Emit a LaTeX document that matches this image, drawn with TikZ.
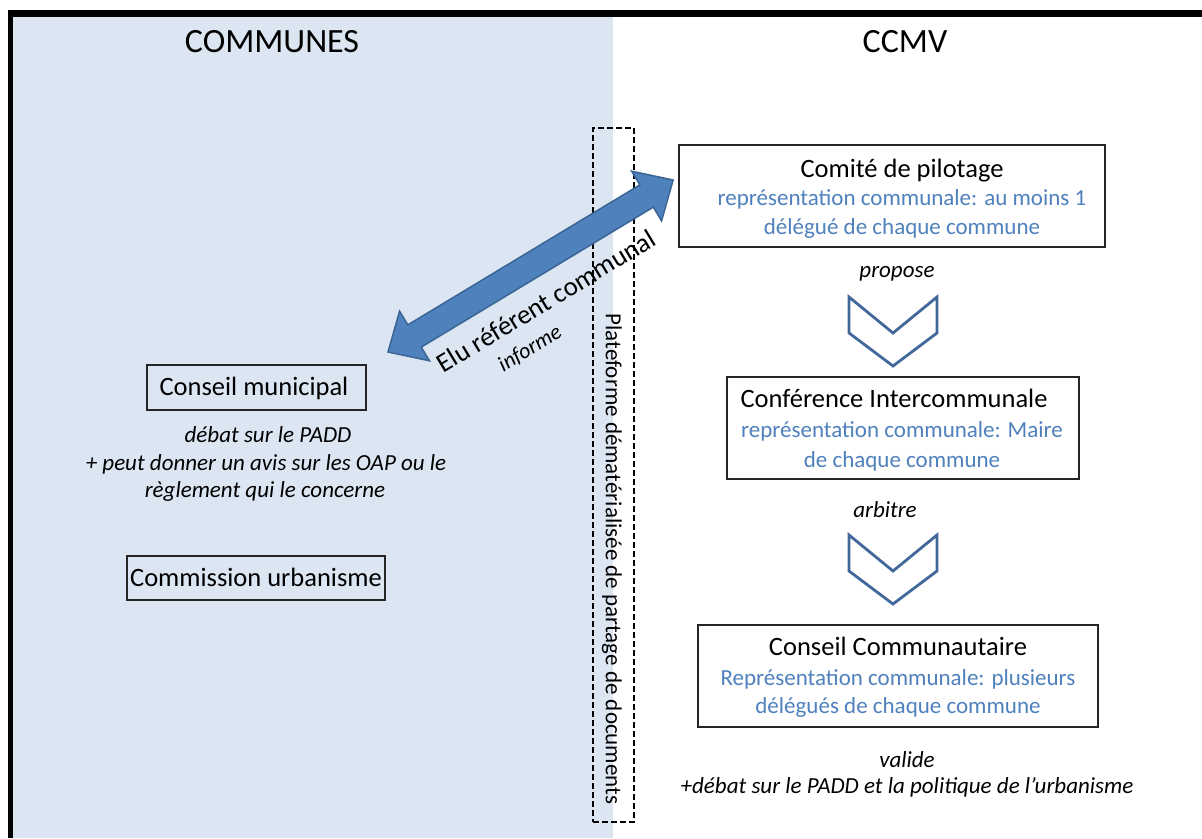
\documentclass[tikz,border=0pt]{standalone}
\usepackage{fontspec}
\setmainfont{Carlito}
\usetikzlibrary{positioning}

\definecolor{panelblue}{HTML}{DCE6F2}
\definecolor{repblue}{HTML}{4F81BD}
\definecolor{arrowedge}{HTML}{3A6595}
\definecolor{chevblue}{HTML}{41679B}

\tikzset{
  box/.style={draw=black!85, line width=1.2pt, inner sep=0pt},
  headtxt/.style={font=\fontsize{34}{40}\selectfont, anchor=base},
  boxtxt/.style={font=\fontsize{26.5}{30}\selectfont, anchor=base},
  reptxt/.style={font=\fontsize{23}{27}\selectfont, text=repblue, anchor=base},
  acttxt/.style={font=\fontsize{23}{27}\selectfont\itshape, anchor=base},
  chevron/.style={draw=chevblue, line width=2.8pt, line join=miter},
}

\begin{document}
\begin{tikzpicture}[x=1pt,y=-1pt]
  \useasboundingbox (0,0) rectangle (1202,838);
  \fill[white] (0,0) rectangle (1202,838);
  \fill[panelblue] (13,17) rectangle (613,838);
  \fill[black] (8,10) rectangle (1202,17);
  \fill[black] (8,10) rectangle (13,838);

  % titres des colonnes
  \node[headtxt] (communes) at (272,52) {COMMUNES};
  \node[headtxt] (ccmv) at (905,52) {CCMV};

  % plateforme
  \node[draw, line width=2pt, dash pattern=on 6pt off 3pt, minimum width=41, minimum height=694, inner sep=0pt] (plateforme) at (613.5,475) {};
  \node[font=\fontsize{23}{27}\selectfont, rotate=-90] (plateforme-txt) at (612,559) {Plateforme dématérialisée de partage de documents};

  % cote communes
  \node[box, minimum width=219, minimum height=45] (cm) at (256.5,387.5) {};
  \node[boxtxt] (cm-t) at (254,395) {Conseil municipal};
  \node[acttxt] (cm-a1) at (268,442) {débat sur le PADD};
  \node[acttxt] (cm-a2) at (266,470) {+ peut donner un avis sur les OAP ou le};
  \node[acttxt] (cm-a3) at (265,497) {règlement qui le concerne};
  \node[box, minimum width=258, minimum height=44] (cu) at (256,578) {};
  \node[boxtxt] (cu-t) at (256,586) {Commission urbanisme};

  % cote CCMV
  \node[box, minimum width=426, minimum height=102] (copil) at (892,196) {};
  \node[boxtxt] (copil-t) at (902,177) {Comité de pilotage};
  \node[reptxt] (copil-r1) at (902,205) {représentation communale: au moins 1};
  \node[reptxt] (copil-r2) at (902,234) {délégué de chaque commune};
  \node[acttxt] (propose) at (897,277) {propose};

  \node[box, minimum width=352, minimum height=102] (ci) at (903,428) {};
  \node[boxtxt] (ci-t) at (894,407) {Conférence Intercommunale};
  \node[reptxt] (ci-r1) at (902,437) {représentation communale: Maire};
  \node[reptxt] (ci-r2) at (902,467) {de chaque commune};
  \node[acttxt] (arbitre) at (885,517) {arbitre};

  \node[box, minimum width=400, minimum height=102] (cc) at (898,676) {};
  \node[boxtxt] (cc-t) at (898,655) {Conseil Communautaire};
  \node[reptxt] (cc-r1) at (898,685) {Représentation communale: plusieurs};
  \node[reptxt] (cc-r2) at (898,713) {délégués de chaque commune};
  \node[acttxt] (valide) at (907,767) {valide};
  \node[acttxt] (debat) at (907,793) {+débat sur le PADD et la politique de l’urbanisme};

  \foreach \y in {297,535}
    \draw[chevron] (849,\y) -- (893,\y+36) -- (937,\y) -- (937,\y+36) -- (893,\y+69) -- (849,\y+36) -- cycle;

  % fleche elu referent
  \begin{scope}[shift={(388,352)}, rotate=31.1]
    \filldraw[fill=repblue, draw=arrowedge, line width=1.5pt, line join=miter]
      (0,0) -- (31,29) -- (31,13) -- (302,13) -- (302,29) -- (333,0)
      -- (302,-29) -- (302,-13) -- (31,-13) -- (31,-29) -- cycle;
  \end{scope}
  \node[font=\fontsize{27}{31}\selectfont, rotate=31.1] (elu) at (546,301) {Elu référent communal};
  \node[font=\fontsize{22}{26}\selectfont\itshape, rotate=31.1] (informe) at (530,349) {informe};
\end{tikzpicture}
\end{document}
